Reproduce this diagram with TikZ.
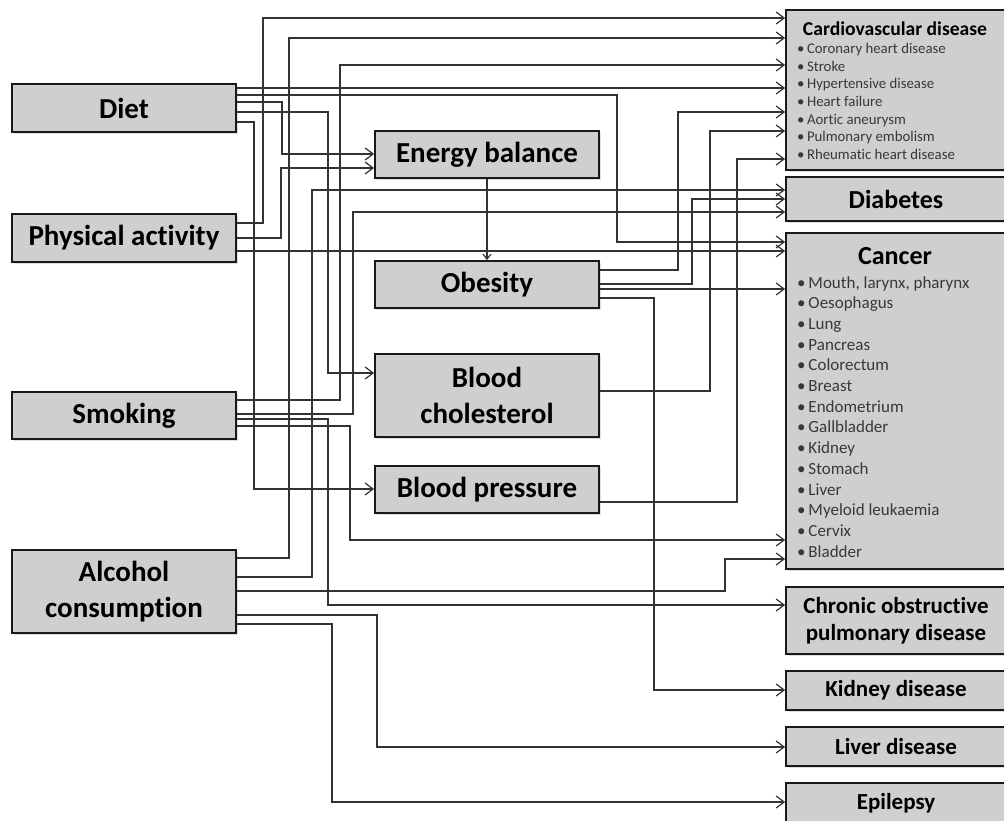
\documentclass[tikz,border=0pt]{standalone}
\usepackage{fontspec}
\setmainfont{Carlito}[Ligatures=CommonOff]
\usetikzlibrary{arrows.meta,shadows}
\begin{document}
\begin{tikzpicture}[x=1pt,y=-1pt,
  box/.style={draw=black!90,line width=1.8pt,fill=black!19,inner sep=0pt,align=center,
    drop shadow={shadow xshift=2pt,shadow yshift=-2pt,opacity=0.25}},
  big/.style={font=\bfseries\fontsize{29}{35.5}\selectfont},
  mid/.style={font=\bfseries\fontsize{26}{30}\selectfont},
  small/.style={font=\bfseries\fontsize{23}{27}\selectfont},
  ttl/.style={font=\bfseries\fontsize{19.6}{22}\selectfont,anchor=base,inner sep=0pt},
  cvitem/.style={font=\fontsize{14.8}{17}\selectfont,text=black!78,anchor=base west,inner sep=0pt},
  caitem/.style={font=\fontsize{17}{20}\selectfont,text=black!78,anchor=base west,inner sep=0pt},
  conn/.style={draw=black!80,line width=1.2pt,-{Straight Barb[length=8pt,width=12pt,line width=1.2pt]}},
  sconn/.style={draw=black!80,line width=1.2pt,-{Straight Barb[length=5pt,width=8pt,line width=1.2pt]}},
]
\useasboundingbox (0,0) rectangle (1004,821);
\fill[white] (0,0) rectangle (1004,821);
% left column
\node[box,big,minimum width=224pt,minimum height=48pt] (diet) at (124,108) {Diet};
\node[box,big,minimum width=224pt,minimum height=48pt] (pa) at (124,238) {Physical activity};
\node[box,big,minimum width=224pt,minimum height=47pt] (smoke) at (124,415.5) {Smoking};
\node[box,big,minimum width=224pt,minimum height=83pt] (alc) at (124,591.5) {Alcohol\\consumption};
% middle column
\node[box,big,minimum width=224pt,minimum height=47pt] (eb) at (487,154.5) {Energy balance};
\node[box,big,minimum width=224pt,minimum height=47pt] (ob) at (487,284.5) {Obesity};
\node[box,big,minimum width=224pt,minimum height=83pt] (bc) at (487,395.5) {Blood\\cholesterol};
\node[box,big,minimum width=224pt,minimum height=47pt] (bp) at (487,489.5) {Blood pressure};
% right column
\node[box,minimum width=220pt,minimum height=160pt] (cvd) at (896,90) {};
\node[box,mid,minimum width=220pt,minimum height=44pt] (diab) at (896,199) {Diabetes};
\node[box,minimum width=220pt,minimum height=336pt] (cancer) at (896,401) {};
\node[box,small,minimum width=220pt,minimum height=67pt] (copd) at (896,620.5) {Chronic obstructive\\pulmonary disease};
\node[box,small,minimum width=220pt,minimum height=39pt] (kid) at (896,690.5) {Kidney disease};
\node[box,small,minimum width=220pt,minimum height=39pt] (liv) at (896,746.5) {Liver disease};
\node[box,small,minimum width=220pt,minimum height=40pt] (epi) at (896,803) {Epilepsy};
% texts inside the list boxes
\node[ttl] (cvdt) at (895,36) {Cardiovascular disease};
\foreach \t [count=\i] in {Coronary heart disease,Stroke,Hypertensive disease,Heart failure,Aortic aneurysm,Pulmonary embolism,Rheumatic heart disease}
  \node[cvitem] (cv\i) at (797,{53.5+17.7*(\i-1)}) {•\,\t};
\node[ttl,font=\bfseries\fontsize{26}{30}\selectfont] (cant) at (895,264) {Cancer};
\foreach \t [count=\i] in {{Mouth, larynx, pharynx},Oesophagus,Lung,Pancreas,Colorectum,Breast,Endometrium,Gallbladder,Kidney,Stomach,Liver,Myeloid leukaemia,Cervix,Bladder}
  \node[caitem] (ca\i) at (797,{288+20.7*(\i-1)}) {•\,\t};
% connectors to cardiovascular disease
\draw[conn] (pa.east |- 0,223) -| (263,18) -- (cvd.west |- 0,18);
\draw[conn] (alc.east |- 0,558) -| (289,38) -- (cvd.west |- 0,38);
\draw[conn] (smoke.east |- 0,400) -| (340,65) -- (cvd.west |- 0,65);
\draw[conn] (diet.east |- 0,88) -- (cvd.west |- 0,88);
\draw[conn] (ob.east |- 0,270) -| (678,112) -- (cvd.west |- 0,112);
\draw[conn] (bc.east |- 0,391) -| (710,131) -- (cvd.west |- 0,131);
\draw[conn] (bp.east |- 0,502) -| (737,159) -- (cvd.west |- 0,159);
% diabetes
\draw[conn] (alc.east |- 0,577) -| (312,190) -- (diab.west |- 0,190);
\draw[conn] (ob.east |- 0,284) -| (692,199) -- (diab.west |- 0,199);
\draw[conn] (smoke.east |- 0,414) -| (353,212) -- (diab.west |- 0,212);
% cancer
\draw[conn] (diet.east |- 0,95) -| (617,242) -- (cancer.west |- 0,242);
\draw[conn] (pa.east |- 0,251) -- (cancer.west |- 0,251);
\draw[conn] (ob.east |- 0,289) -- (cancer.west |- 0,289);
\draw[conn] (smoke.east |- 0,426) -| (350,540) -- (cancer.west |- 0,540);
\draw[conn] (alc.east |- 0,591) -| (725,559) -- (cancer.west |- 0,559);
% other diseases
\draw[conn] (smoke.east |- 0,419) -| (328,605) -- (copd.west |- 0,605);
\draw[conn] (ob.east |- 0,298) -| (654,690) -- (kid.west |- 0,690);
\draw[conn] (alc.east |- 0,615) -| (377,747) -- (liv.west |- 0,747);
\draw[conn] (alc.east |- 0,624) -| (332,802) -- (epi.west |- 0,802);
% intermediate factors
\draw[conn] (diet.east |- 0,102) -| (282,154) -- (eb.west |- 0,154);
\draw[conn] (pa.east |- 0,238) -| (281,168) -- (eb.west |- 0,168);
\draw[conn] (diet.east |- 0,112) -| (328,373) -- (bc.west |- 0,373);
\draw[conn] (diet.east |- 0,122) -| (254,489) -- (bp.west |- 0,489);
\draw[sconn] (eb.south) -- (ob.north);
\end{tikzpicture}
\end{document}
